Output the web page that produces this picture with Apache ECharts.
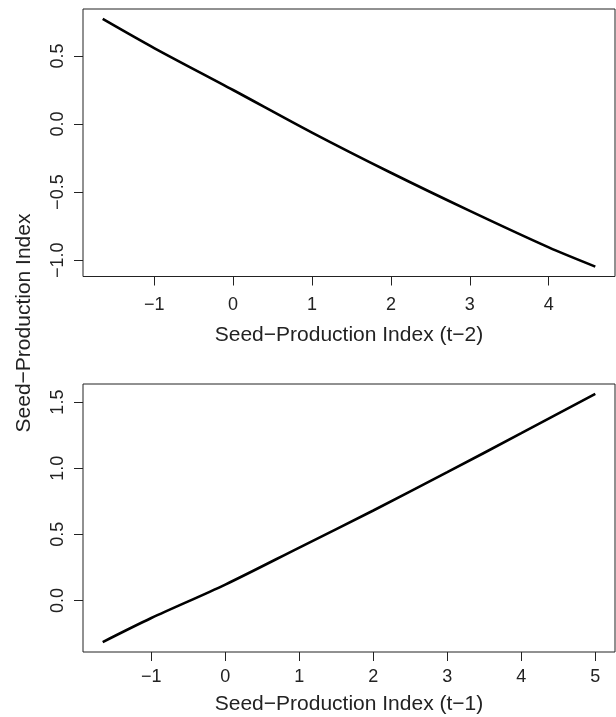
<!DOCTYPE html>
<html>
<head>
<meta charset="utf-8">
<script src="https://cdn.jsdelivr.net/npm/echarts@6/dist/echarts.min.js"></script>
<style>
html,body{margin:0;padding:0;background:#fff;}
#c{width:616px;height:717px;}
</style>
</head>
<body>
<div id="c"></div>
<script>
// ---- data ----
const topX = [-1.652, -1, 0, 1, 2, 3, 4, 4.59];
const topY = [0.772, 0.558, 0.25, -0.063, -0.358, -0.638, -0.906, -1.047];
const botX = [-1.657, -1, 0, 1, 2, 3, 4, 5];
const botY = [-0.315, -0.133, 0.12, 0.40, 0.68, 0.97, 1.265, 1.562];

const topXTicks = [-1, 0, 1, 2, 3, 4];
const topYTicks = [-1.0, -0.5, 0.0, 0.5];
const botXTicks = [-1, 0, 1, 2, 3, 4, 5];
const botYTicks = [0.0, 0.5, 1.0, 1.5];

const topXName = 'Seed\u2212Production Index (t\u22122)';
const botXName = 'Seed\u2212Production Index (t\u22121)';
const yName = 'Seed\u2212Production Index';

// ---- chart ----
const FONT = "'Liberation Sans', Arial, Helvetica, sans-serif";
const TXT = '#222';
const minus = s => String(s).replace('-', '\u2212');

function pairs(xs, ys){ return xs.map((x,i)=>[x, ys[i]]); }
function pad(arr){ const mn=Math.min(...arr), mx=Math.max(...arr), d=(mx-mn)*0.04; return [mn-d, mx+d]; }

const tx = pad(topX), ty = pad(topY), bx = pad(botX), by = pad(botY);

function xAxis(idx, ext, ticks, name, margin, gap){
  return {
    type:'value', gridIndex:idx, min:ext[0], max:ext[1],
    splitLine:{show:false},
    axisLine:{show:false, onZero:false},
    axisTick:{show:true, inside:false, length:9, customValues:ticks, lineStyle:{color:'#222', width:1}},
    axisLabel:{show:true, customValues:ticks, margin:margin, fontSize:18, fontFamily:FONT, color:TXT,
      formatter: v => minus(Math.round(v))},
    name:name, nameLocation:'middle', nameGap:gap,
    nameTextStyle:{fontSize:21, fontFamily:FONT, color:TXT}
  };
}
function yAxis(idx, ext, ticks){
  return {
    type:'value', gridIndex:idx, min:ext[0], max:ext[1],
    splitLine:{show:false},
    axisLine:{show:false, onZero:false},
    axisTick:{show:true, inside:false, length:9, customValues:ticks, lineStyle:{color:'#222', width:1}},
    axisLabel:{show:true, customValues:ticks, rotate:90, margin:16, fontSize:18, fontFamily:FONT, color:TXT,
      formatter: v => minus(Number(v).toFixed(1))}
  };
}

const chart = echarts.init(document.getElementById('c'), null, {renderer:'canvas'});
chart.setOption({
  animation:false,
  backgroundColor:'#fff',
  grid:[
    {left:83, right:1, top:9, height:267.5, show:true, borderColor:'#222', borderWidth:1, backgroundColor:'transparent'},
    {left:83, right:1, top:384, height:268, show:true, borderColor:'#222', borderWidth:1, backgroundColor:'transparent'}
  ],
  xAxis:[ xAxis(0, tx, topXTicks, topXName, 20, 48), xAxis(1, bx, botXTicks, botXName, 16.5, 41.5) ],
  yAxis:[ yAxis(0, ty, topYTicks), yAxis(1, by, botYTicks) ],
  graphic:[{
    type:'text', x:24, y:323, rotation:Math.PI/2,
    style:{text:yName, fontSize:21, fontFamily:FONT, fill:TXT, align:'center', verticalAlign:'middle'}
  }],
  series:[
    {type:'line', xAxisIndex:0, yAxisIndex:0, data:pairs(topX, topY), showSymbol:false, symbol:'none', smooth:0.3,
      lineStyle:{color:'#000', width:2.6}},
    {type:'line', xAxisIndex:1, yAxisIndex:1, data:pairs(botX, botY), showSymbol:false, symbol:'none', smooth:0.3,
      lineStyle:{color:'#000', width:2.6}}
  ]
});
</script>
</body>
</html>
